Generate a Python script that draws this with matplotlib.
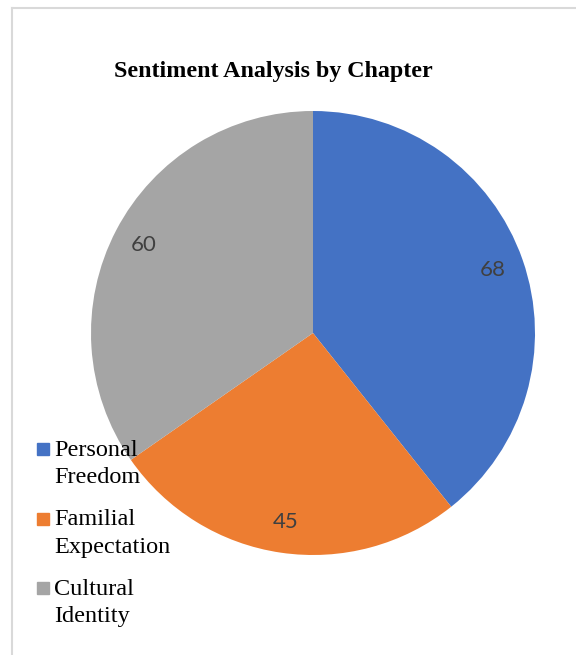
import matplotlib.pyplot as plt
from matplotlib.lines import Line2D
from matplotlib.offsetbox import HPacker, DrawingArea

# chart data
categories = ['Personal\nFreedom', 'Familial\nExpectation', 'Cultural\nIdentity']
values = [68, 45, 60]
colors = ['#4472C4', '#ED7D31', '#A5A5A5']

fig = plt.figure(figsize=(5.76, 6.55), dpi=100)

# light frame (only left and top edges show in the crop)
fig.add_artist(Line2D([12 / 576, 12 / 576], [0, 1 - 8 / 655], color='#D9D9D9', lw=1.5))
fig.add_artist(Line2D([12 / 576, 1], [1 - 8 / 655, 1 - 8 / 655], color='#D9D9D9', lw=1.5))

# pie axes
ax = fig.add_axes([91 / 576, 1 - 555 / 655, 444 / 576, 444 / 655])
wedges, texts, autotexts = ax.pie(
    values, colors=colors, startangle=90, counterclock=False,
    autopct=lambda p: '{:.0f}'.format(p * sum(values) / 100),
    pctdistance=0.86, wedgeprops=dict(linewidth=0),
    textprops=dict(color='#404040', fontsize=16, family='Lato'))
ax.set_xlim(-1, 1)
ax.set_ylim(-1, 1)
ax.set_aspect('equal')

fig.text(273 / 576, 1 - 77 / 655, 'Sentiment Analysis by Chapter', ha='center', va='baseline',
         fontsize=17.3, fontweight='bold', family='Liberation Serif')

handles = [Line2D([], [], marker='s', ls='none', color=c, markersize=8) for c in colors]
leg = fig.legend(handles, categories, loc='upper left', bbox_to_anchor=(36 / 576, 1 - 440 / 655),
                 frameon=False, borderpad=0, borderaxespad=0,
                 handlelength=0.6, handleheight=0.95, handletextpad=0.14, labelspacing=0.86,
                 prop=dict(family='Liberation Serif', size=17.5))
for t in leg.get_texts():
    t.set_linespacing(1.4)

# put each marker next to the first line of its label
def walk(box):
    for child in box.get_children():
        if isinstance(child, HPacker) and any(isinstance(c, DrawingArea) for c in child.get_children()):
            child.align = 'top'
        elif hasattr(child, 'get_children'):
            walk(child)

walk(leg._legend_box)

fig.savefig('out.png', dpi=100)
